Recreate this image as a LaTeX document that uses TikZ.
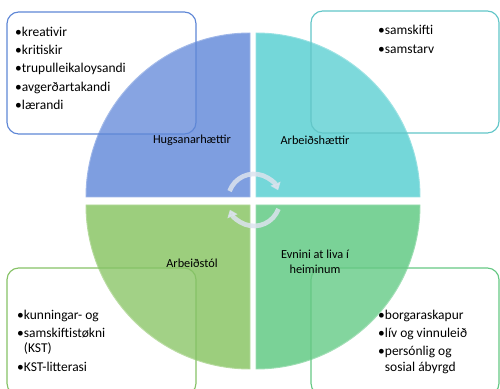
\documentclass[tikz,border=0pt]{standalone}
\usepackage{fontspec}
\setmainfont{Carlito}
\usetikzlibrary{arrows.meta}
\definecolor{hugblue}{HTML}{7E9EE0}
\definecolor{hugline}{HTML}{5F87D6}
\definecolor{arbteal}{HTML}{74D7D9}
\definecolor{arbline}{HTML}{62C6C8}
\definecolor{tolgreen}{HTML}{9CCE7D}
\definecolor{tolline}{HTML}{86C266}
\definecolor{evngreen}{HTML}{7AD297}
\definecolor{evnline}{HTML}{66C884}
\definecolor{cycgray}{HTML}{DCE3EE}
\begin{document}
\begin{tikzpicture}[x=0.03cm, y=0.03cm,
    quad/.style={fill=#1, draw=#1!75!white, line width=0.8pt},
    box/.style={draw=#1, fill=white, fill opacity=0.07, rounded corners=10pt, line width=1pt},
    lbl/.style={font=\fontsize{10.5}{12.5}\selectfont, align=center, inner sep=0pt},
    items/.style={font=\fontsize{11.5}{13}\selectfont, align=left, anchor=north west, inner sep=0pt},
    cyc/.style={draw=cycgray, line width=4pt, opacity=0.85, -{Triangle[width=9pt,length=6pt]}}]
  \useasboundingbox (0,0) rectangle (500,389);

  \path[quad=hugblue] (250,192) -- (86,192) arc[start angle=180, end angle=90, radius=164] -- cycle;
  \path[quad=arbteal] (256,192) -- (256,356) arc[start angle=90, end angle=0, radius=164] -- cycle;
  \path[quad=tolgreen] (250,184) -- (86,184) arc[start angle=180, end angle=270, radius=164] -- cycle;
  \path[quad=evngreen] (256,184) -- (420,184) arc[start angle=0, end angle=-90, radius=164] -- cycle;

  \draw[box=hugline] (7,255) rectangle (196,377);
  \draw[box=arbline] (311,256) rectangle (499,378);
  \draw[box=tolline] (7,-6) rectangle (196,121);
  \draw[box=evnline] (311,-6) rectangle (499,121);

  \node[lbl] (hug) at (192,249) {Hugsanarhættir};
  \node[lbl] (arb) at (315,249) {Arbeiðshættir};
  \node[lbl] (tol) at (192,126) {Arbeiðstól};
  \node[lbl] (evn) at (315,127) {Evnini at liva í\\heiminum};

  \node[items] (huglist) at (15,362) {•kreativir\\[2.5pt]•kritiskir\\[2.5pt]•trupulleikaloysandi\\[2.5pt]•avgerðartakandi\\[2.5pt]•lærandi};
  \node[items] (arblist) at (378,364) {•samskifti\\[3pt]•samstarv};
  \node[items] (tollist) at (17,79) {•kunningar- og\\[2.5pt]•samskiftistøkni\\\phantom{•}(KST)\\[2.5pt]•KST-litterasi};
  \node[items] (evnlist) at (378,79) {•borgaraskapur\\[2.5pt]•lív og vinnuleið\\[2.5pt]•persónlig og\\\phantom{•}sosial ábyrgd};

  \coordinate (hub) at (254,189);
  \draw[cyc] ([shift={(160:26)}]hub) arc[start angle=160, end angle=22, radius=26];
  \draw[cyc] ([shift={(-20:26)}]hub) arc[start angle=-20, end angle=-158, radius=26];
\end{tikzpicture}
\end{document}
